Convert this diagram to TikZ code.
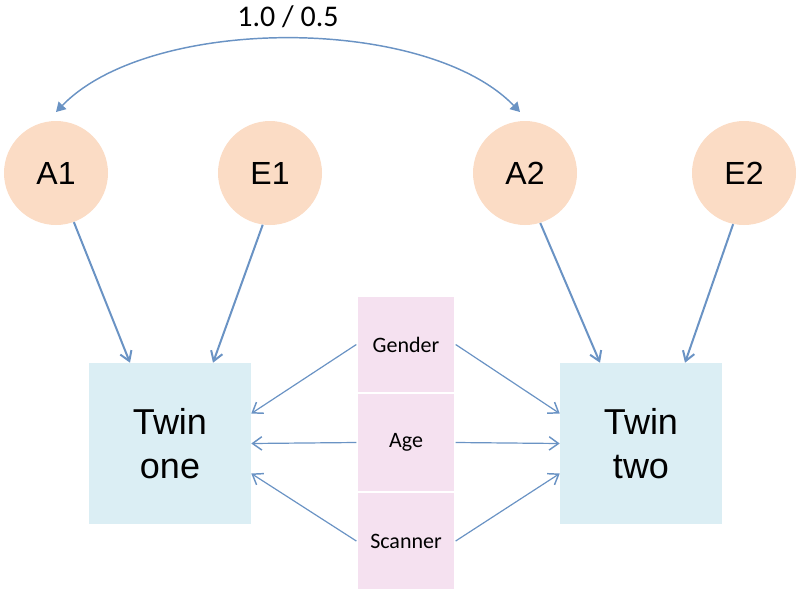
\documentclass[tikz,border=0pt]{standalone}
\usepackage{fontspec}
\setmainfont{Liberation Sans}
\newfontfamily\calfont{Carlito}
\usetikzlibrary{arrows.meta}
\definecolor{arrowblue}{HTML}{6A93C4}
\definecolor{peach}{HTML}{FBDCC5}
\definecolor{lightblue}{HTML}{DBEEF4}
\definecolor{lightpink}{HTML}{F5E1F0}
\tikzset{
  latent/.style={circle, fill=peach, minimum size=104*0.75pt, inner sep=0pt, font=\fontsize{24}{28}\selectfont},
  twinbox/.style={rectangle, fill=lightblue, minimum width=162*0.75pt, minimum height=161*0.75pt, inner sep=0pt, align=center, font=\fontsize{27}{33}\selectfont},
  covcell/.style={rectangle, fill=lightpink, draw=white, line width=1pt, minimum width=98*0.75pt, inner sep=0pt, font=\calfont\fontsize{16.5}{20}\selectfont},
  mainarrow/.style={draw=arrowblue, line width=1.5pt, -{Straight Barb[length=7pt, width=9pt, line width=1.5pt]}},
  covarrow/.style={draw=arrowblue, line width=0.9pt, -{Straight Barb[length=7pt, width=10pt, line width=1.1pt]}},
  corrarrow/.style={draw=arrowblue, line width=1.1pt, {Triangle[length=7pt, width=8pt]}-{Triangle[length=7pt, width=8pt]}},
}
\begin{document}
\begin{tikzpicture}[x=0.75pt, y=-0.75pt]
\useasboundingbox (0,0) rectangle (800,593);
% latent factors
\node[latent] (A1) at (56,173) {A1};
\node[latent] (E1) at (270,173) {E1};
\node[latent] (A2) at (525,173) {A2};
\node[latent] (E2) at (744,173) {E2};
% twins
\node[twinbox] (T1) at (170,443.5) {Twin\\one};
\node[twinbox] (T2) at (641,443.5) {Twin\\two};
% covariates
\node[covcell, minimum height=97*0.75pt] (G) at (406,344.5) {Gender};
\node[covcell, minimum height=99*0.75pt] (Ag) at (406,442.5) {Age};
\node[covcell, minimum height=98*0.75pt] (S) at (406,541) {Scanner};
% correlation
\coordinate (c1) at (56,112);
\coordinate (c2) at (520,112);
\draw[corrarrow] (c1) .. controls (150,15) and (426,15) .. (c2);
\node[font=\calfont\fontsize{22.5}{26}\selectfont] (lab) at (288,17) {1.0 / 0.5};
% paths
\draw[mainarrow] (A1.-70) -- ([xshift=-40*0.75pt]T1.north);
\draw[mainarrow] (E1.-98) -- ([xshift=43*0.75pt]T1.north);
\draw[mainarrow] (A2.-73) -- ([xshift=-41*0.75pt]T2.north);
\draw[mainarrow] (E2.-102) -- ([xshift=44*0.75pt]T2.north);
% covariate arrows
\draw[covarrow] (G.west) -- ([yshift=30*0.75pt]T1.east);
\draw[covarrow] (Ag.west) -- (T1.east);
\draw[covarrow] (S.west) -- ([yshift=-30*0.75pt]T1.east);
\draw[covarrow] (G.east) -- ([yshift=30*0.75pt]T2.west);
\draw[covarrow] (Ag.east) -- (T2.west);
\draw[covarrow] (S.east) -- ([yshift=-30*0.75pt]T2.west);
\end{tikzpicture}
\end{document}
